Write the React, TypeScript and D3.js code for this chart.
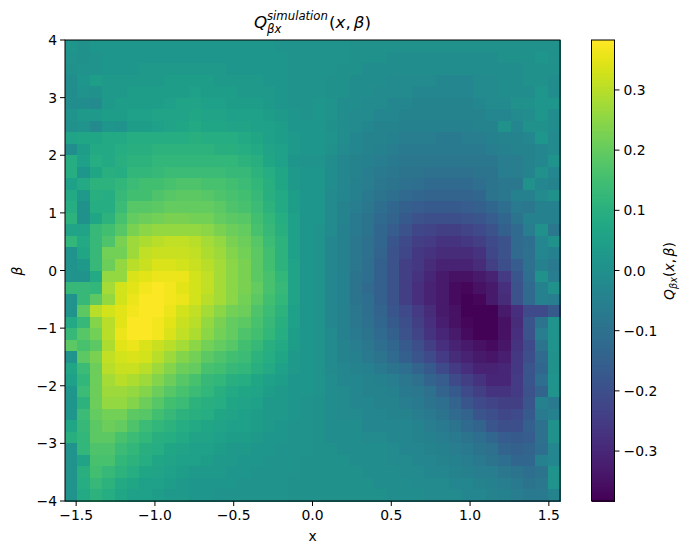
import React from 'react';
import * as d3 from 'd3';

const WIDTH = 692;
const HEIGHT = 554;
const margin = { top: 40, right: 132, bottom: 53, left: 65 };
const FONT = '"DejaVu Sans", sans-serif';

const xTicks = [-1.5, -1, -0.5, 0, 0.5, 1, 1.5];
const yTicks = [-4, -3, -2, -1, 0, 1, 2, 3, 4];
const barTicks = [-0.3, -0.2, -0.1, 0, 0.1, 0.2, 0.3];
const valueMax = 0.383;

// Q values in hundredths, first row is beta = 4 (top of the picture)
const qRows: number[][] = [
  [2,0,2,2,2,2,2,2,2,2,2,2,2,2,2,2,2,1,1,1,1,1,1,0,0,0,0,0,0,0,0,0,0,0,0,0,0,0,0,0],
  [1,0,1,2,2,2,2,2,2,2,2,2,2,2,2,2,2,2,1,1,1,1,1,0,0,0,-1,-1,-1,-1,-1,-1,-1,-1,-1,0,0,0,2,0],
  [0,1,1,2,2,2,3,3,3,3,3,3,3,2,2,2,2,2,1,1,1,1,0,0,-1,-1,-1,-1,-1,-1,-1,-1,-1,-1,-1,-1,-1,0,0,0],
  [-1,2,4,3,3,3,3,3,4,4,4,4,3,3,3,3,2,2,1,1,1,0,0,-1,-1,-1,-2,-2,-2,-2,-3,-3,-3,-2,-2,-1,-1,0,0,-1],
  [-1,1,0,3,3,4,4,4,4,4,5,4,4,4,3,3,3,2,1,1,1,0,0,-1,-1,-2,-2,-2,-3,-3,-3,-3,-3,-2,-2,-1,-1,-1,2,-1],
  [-1,-1,-2,3,4,4,4,4,5,6,6,5,5,4,4,4,3,2,1,1,2,1,-1,-1,-2,-2,-3,-3,-4,-4,-4,-4,-4,-3,-2,-2,0,0,2,2],
  [1,3,3,4,4,5,5,6,6,6,7,6,6,5,5,5,4,3,2,1,2,1,-1,-2,-2,-3,-3,-4,-4,-4,-4,-4,-4,-4,-3,-3,-2,-1,2,-1],
  [0,1,-2,2,1,4,4,5,6,7,8,7,7,6,6,5,5,4,2,2,2,0,-1,-2,-3,-4,-4,-5,-5,-5,-5,-5,-5,-4,-4,0,-3,0,0,-1],
  [6,7,7,8,8,9,9,9,9,9,10,9,9,9,8,7,5,4,3,2,2,1,-1,-3,-4,-4,-5,-6,-6,-6,-7,-7,-6,-6,-5,-4,-4,-3,2,-2],
  [-1,4,8,8,9,10,10,11,11,11,11,11,10,10,9,8,6,5,3,2,2,0,-2,-3,-4,-5,-6,-7,-7,-7,-7,-7,-7,-7,-6,-5,-4,-4,-3,-2],
  [9,5,9,8,10,11,11,12,12,12,12,12,12,12,11,10,7,5,2,1,1,-1,-3,-4,-5,-6,-7,-8,-8,-8,-8,-8,-8,-8,-8,-6,-6,-4,-3,1],
  [9,2,7,10,9,12,12,13,14,14,14,14,14,13,13,11,9,7,3,2,2,-1,-3,-4,-6,-7,-8,-9,-9,-10,-10,-10,-10,-9,-9,-6,-6,-4,0,-3],
  [5,8,11,11,12,14,15,15,16,17,17,16,16,15,14,12,10,7,3,2,2,-1,-3,-5,-6,-8,-9,-10,-11,-12,-12,-12,-12,-11,-9,-8,-8,0,-3,-4],
  [8,3,10,9,13,15,15,17,18,19,19,18,17,16,15,13,10,8,4,2,2,-2,-3,-5,-7,-9,-11,-12,-13,-14,-14,-14,-14,-13,-9,-8,-5,-5,-2,0],
  [9,0,9,9,14,18,18,19,20,20,20,20,19,17,16,14,11,8,4,2,2,-2,-4,-6,-8,-11,-13,-15,-16,-17,-17,-17,-16,-15,-13,-11,-7,-8,-5,-5],
  [11,0,7,11,16,20,21,22,23,23,22,22,20,19,18,15,12,9,5,2,2,-2,-4,-7,-9,-12,-14,-17,-19,-20,-20,-20,-19,-18,-16,-13,-9,-5,-5,-5],
  [6,6,13,15,18,23,25,26,26,26,26,25,23,21,20,16,13,10,5,2,1,-2,-5,-7,-9,-13,-16,-19,-22,-23,-24,-24,-23,-21,-19,-15,-12,-6,0,-8],
  [12,8,13,17,23,27,29,30,31,31,30,28,26,23,21,18,14,11,5,2,1,-3,-5,-8,-10,-13,-18,-21,-24,-25,-27,-27,-26,-24,-21,-19,-12,-11,-3,0],
  [1,7,13,22,22,27,31,32,32,32,31,29,27,24,22,19,15,11,5,2,1,-3,-5,-8,-10,-14,-19,-22,-26,-27,-29,-29,-29,-27,-22,-19,-12,-10,-3,-5],
  [1,3,13,21,26,30,32,34,34,33,32,30,28,25,23,19,15,11,6,2,1,-3,-5,-8,-11,-15,-19,-24,-26,-29,-31,-31,-31,-29,-24,-20,-16,-10,-5,-7],
  [1,1,8,26,26,34,35,36,36,36,33,31,28,25,23,19,16,12,6,2,1,-3,-5,-9,-11,-15,-19,-24,-27,-30,-33,-35,-35,-33,-31,-25,-18,-11,0,-6],
  [13,13,12,28,33,35,37,38,37,35,33,31,28,25,23,20,16,13,6,2,1,-3,-5,-9,-12,-15,-19,-24,-28,-31,-33,-36,-37,-35,-33,-28,-19,-12,-5,0],
  [1,13,19,26,33,36,38,38,37,36,33,30,28,25,22,19,15,12,6,2,1,-3,-5,-9,-11,-15,-19,-24,-28,-31,-33,-36,-38,-37,-33,-29,-19,-12,-5,-6],
  [1,19,30,33,35,37,38,38,36,33,31,28,25,22,21,17,14,11,5,2,1,-3,-5,-8,-11,-14,-18,-21,-25,-29,-33,-35,-38,-38,-38,-33,-28,-21,-21,-17],
  [8,13,24,30,35,38,38,37,35,32,30,26,23,20,19,16,13,10,5,2,1,-3,-5,-8,-10,-13,-17,-20,-24,-28,-32,-35,-37,-38,-38,-35,-29,-18,-9,1],
  [13,18,22,30,36,38,38,37,34,31,29,25,22,20,17,15,12,9,4,2,1,-2,-5,-7,-9,-12,-15,-19,-23,-27,-30,-33,-36,-38,-38,-35,-28,-19,-6,1],
  [19,16,19,29,35,36,34,32,30,28,25,22,20,18,15,13,10,8,4,2,1,-2,-4,-6,-8,-11,-13,-17,-20,-24,-28,-31,-33,-35,-36,-34,-27,-21,-9,1],
  [1,19,23,31,33,34,33,30,27,24,22,19,17,15,14,11,9,7,3,2,1,-2,-4,-5,-7,-9,-12,-15,-18,-21,-25,-29,-31,-33,-34,-32,-26,-20,-12,0],
  [7,14,21,30,32,32,30,27,24,21,20,16,15,13,12,10,8,5,3,2,1,-2,-3,-4,-5,-7,-9,-11,-14,-17,-21,-25,-28,-31,-31,-30,-26,-18,-13,0],
  [5,12,21,28,30,29,27,24,21,18,16,13,12,10,9,7,5,4,2,2,1,-1,-3,-3,-4,-5,-6,-8,-10,-14,-16,-21,-24,-27,-30,-30,-25,-18,-11,1],
  [2,14,21,27,27,26,24,21,18,16,14,12,10,8,7,6,4,3,2,2,1,-1,-2,-3,-4,-4,-5,-7,-8,-10,-14,-17,-21,-24,-27,-27,-25,-19,-14,1],
  [2,11,21,26,26,24,21,18,15,14,11,10,9,7,6,5,3,3,2,1,0,-1,-2,-3,-3,-4,-4,-6,-7,-9,-11,-14,-18,-21,-23,-24,-24,-18,-5,-7],
  [2,14,20,22,22,19,18,15,13,11,10,9,7,6,5,4,3,3,2,1,0,-1,-2,-2,-3,-3,-4,-4,-6,-7,-9,-12,-14,-18,-20,-22,-21,-17,-7,-5],
  [7,13,19,21,20,17,14,12,11,9,8,7,6,5,5,4,3,2,1,1,0,-1,-1,-1,-3,-3,-3,-3,-4,-6,-7,-9,-12,-14,-18,-20,-20,-15,-10,0],
  [10,12,19,19,16,14,12,10,9,8,6,6,5,4,4,3,2,2,1,1,0,-1,-1,-1,-2,-2,-3,-3,-4,-5,-6,-7,-9,-11,-13,-16,-17,-16,-10,0],
  [1,12,17,17,14,12,10,9,7,6,5,5,4,3,3,2,2,1,1,1,0,0,-1,-1,-1,-1,-2,-3,-3,-4,-5,-6,-7,-9,-10,-14,-15,-14,-11,-3],
  [1,6,16,16,12,11,9,7,6,5,5,4,3,3,2,2,1,1,1,0,0,0,0,-1,-1,-1,-2,-2,-3,-3,-4,-5,-6,-7,-9,-11,-13,-13,-5,-3],
  [1,10,15,13,11,9,7,6,5,4,3,3,3,2,2,1,1,1,1,0,0,0,0,0,-1,-1,-1,-2,-2,-3,-3,-4,-5,-6,-6,-8,-9,-11,-9,1],
  [1,9,13,11,8,7,5,5,4,3,2,2,2,2,1,1,1,1,0,0,0,0,0,0,0,-1,-1,-1,-2,-2,-2,-3,-3,-4,-5,-6,-7,-9,-8,1],
  [1,8,11,9,7,5,5,4,3,3,2,2,1,1,1,1,1,1,0,0,0,0,0,0,0,0,-1,-1,-1,-2,-2,-2,-3,-3,-4,-5,-6,-7,-7,-4],
];

const plotW = WIDTH - margin.left - margin.right;
const plotH = HEIGHT - margin.top - margin.bottom;

export default function App() {
  const x = d3.scaleLinear().domain([-Math.PI / 2, Math.PI / 2]).range([margin.left, margin.left + plotW]);
  const y = d3.scaleLinear().domain([-4, 4]).range([margin.top + plotH, margin.top]);
  const colBand = d3.scaleBand<number>().domain(d3.range(qRows[0].length)).range([margin.left, margin.left + plotW]);
  const rowBand = d3.scaleBand<number>().domain(d3.range(qRows.length)).range([margin.top, margin.top + plotH]);
  const color = d3.scaleSequential(d3.interpolateViridis).domain([-valueMax, valueMax]);

  // colourbar
  const barLeft = 591.5;
  const barWidth = 23;
  const barY = d3.scaleLinear().domain([-valueMax, valueMax]).range([margin.top + plotH, margin.top]);
  const barBand = d3.scaleBand<number>().domain(d3.range(256)).range([margin.top + plotH, margin.top]);

  const tickText = { fontFamily: FONT, fontSize: 13.9, fill: '#000' } as const;
  const fmt = (v: number) => d3.format('.1f')(v).replace('-', '\u2212');

  return (
    <svg width={WIDTH} height={HEIGHT} style={{ position: 'absolute', left: 0, top: 0 }}>
      <rect width={WIDTH} height={HEIGHT} fill="#fff" />
      <g shapeRendering="crispEdges">
        {qRows.map((row, r) =>
          row.map((v, c) => (
            <rect
              key={`${r}-${c}`}
              x={colBand(c)}
              y={rowBand(r)}
              width={colBand.bandwidth() + 0.5}
              height={rowBand.bandwidth() + 0.5}
              fill={color(v / 100)}
            />
          )),
        )}
      </g>
      <rect x={margin.left} y={margin.top} width={plotW} height={plotH} fill="none" stroke="#000" strokeWidth={1} />

      {xTicks.map((t) => (
        <g key={t}>
          <line x1={x(t)} x2={x(t)} y1={margin.top + plotH} y2={margin.top + plotH + 5} stroke="#000" />
          <text {...tickText} x={x(t)} y={margin.top + plotH + 19} textAnchor="middle">
            {fmt(t)}
          </text>
        </g>
      ))}
      {yTicks.map((t) => (
        <g key={t}>
          <line x1={margin.left - 5} x2={margin.left} y1={y(t)} y2={y(t)} stroke="#000" />
          <text {...tickText} x={margin.left - 8} y={y(t) + 5} textAnchor="end">
            {t < 0 ? `\u2212${-t}` : t}
          </text>
        </g>
      ))}

      <text {...tickText} x={margin.left + plotW / 2} y={541} textAnchor="middle">
        x
      </text>
      <text {...tickText} fontStyle="italic" transform={`translate(22,271) rotate(-90)`} textAnchor="middle">
        β
      </text>

      {/* title, Q with stacked sub and superscript */}
      <g fontFamily={FONT} fill="#000" fontStyle="italic">
        <text x={254} y={28} fontSize={16.7}>Q</text>
        <text x={267} y={20} fontSize={11.7}>simulation</text>
        <text x={267} y={33} fontSize={11.7}>βx</text>
        <text x={329} y={28} fontSize={16.7}>
          <tspan fontStyle="normal">(</tspan>x<tspan fontStyle="normal">,</tspan><tspan dx={3}>β</tspan><tspan fontStyle="normal">)</tspan>
        </text>
      </g>

      {/* colourbar */}
      <g shapeRendering="crispEdges">
        {barBand.domain().map((i) => (
          <rect key={i} x={barLeft} y={barBand(i)} width={barWidth} height={barBand.bandwidth() + 0.5} fill={d3.interpolateViridis(i / 255)} />
        ))}
      </g>
      <rect x={barLeft} y={margin.top} width={barWidth} height={plotH} fill="none" stroke="#000" />
      {barTicks.map((t) => (
        <g key={t}>
          <line x1={barLeft + barWidth} x2={barLeft + barWidth + 5} y1={barY(t)} y2={barY(t)} stroke="#000" />
          <text {...tickText} x={barLeft + barWidth + 9} y={barY(t) + 5}>
            {fmt(t)}
          </text>
        </g>
      ))}
      <g transform="translate(674,271) rotate(-90)" fontFamily={FONT} fill="#000" fontStyle="italic">
        <text x={-29} y={0} fontSize={13.9}>Q</text>
        <text x={-18} y={3} fontSize={9.7}>βx</text>
        <text x={-6} y={0} fontSize={13.9}>
          <tspan fontStyle="normal">(</tspan>x<tspan fontStyle="normal">,</tspan><tspan dx={2.5}>β</tspan><tspan fontStyle="normal">)</tspan>
        </text>
      </g>
    </svg>
  );
}
